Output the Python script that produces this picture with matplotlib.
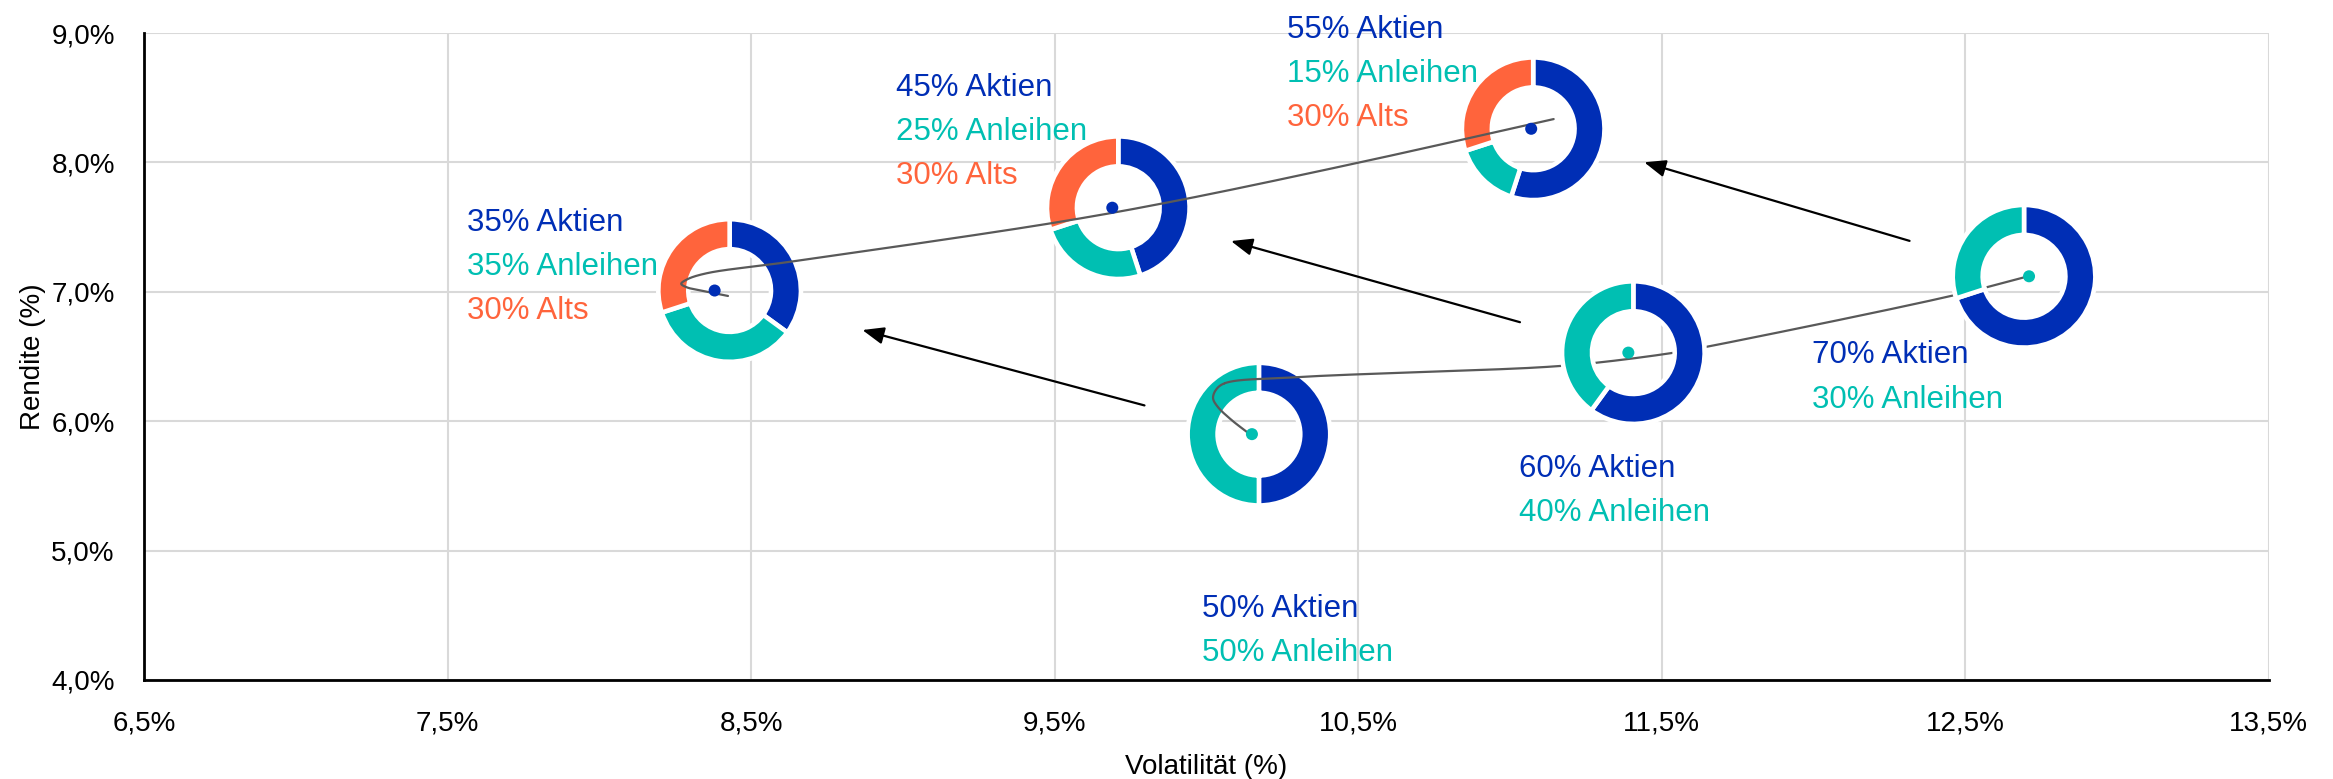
import numpy as np
import matplotlib
matplotlib.use('Agg')
from matplotlib import pyplot as plt
from matplotlib import font_manager


# =============================================================================
# Data: portfolios (volatility / return in %) and their asset mix
# =============================================================================
volatility = [8.38, 9.69, 11.07, 10.15, 11.39, 12.71]
rendite = [7.01, 7.65, 8.26, 5.90, 6.53, 7.12]
aktien = [35, 45, 55, 50, 60, 70]
anleihen = [35, 25, 15, 50, 40, 30]
alts = [30, 30, 30, 0, 0, 0]

# Frontier curves (knots along the drawn line)
curve_alts_x = [8.424, 8.353, 8.288, 8.270, 8.290, 8.353, 8.631, 9.494, 9.893, 10.495, 11.144]
curve_alts_y = [6.968, 7.001, 7.035, 7.062, 7.097, 7.143, 7.233, 7.532, 7.700, 7.995, 8.335]
curve_trad_x = [10.139, 10.083, 10.037, 10.022, 10.031, 10.060, 10.287, 11.103, 11.285, 11.539, 11.650, 12.466, 12.694]
curve_trad_y = [5.907, 6.009, 6.112, 6.177, 6.241, 6.293, 6.339, 6.417, 6.452, 6.529, 6.576, 6.975, 7.112]

# Arrows: from a stock/bond portfolio to its alts counterpart
arrow_pairs = [(3, 0), (4, 1), (5, 2)]

x_ticks = [6.5, 7.5, 8.5, 9.5, 10.5, 11.5, 12.5, 13.5]
y_ticks = [4.0, 5.0, 6.0, 7.0, 8.0, 9.0]

# =============================================================================
# Layout / style
# =============================================================================
BLUE = '#002EB5'
TEAL = '#00BFB2'
ORANGE = '#FF643C'
GREY = '#595959'
GRID = '#D9D9D9'

# label anchor (left, baseline of first line) in data units
label_xy = [(7.564, 7.470), (8.979, 8.513), (10.264, 8.964),
            (9.986, 4.485), (11.029, 5.571), (11.994, 6.447)]
ring_shift = [15, 6, 2, 7, 5, -5]       # px, horizontal nudge of the donuts
ring_z = [3, 3, 3, 3, 4.2, 4.2]
arrow_start = [0.20, 0.21, 0.24]
arrow_end = [0.725, 0.77, 0.773]
R_PX = 71.3

names = {f.name for f in font_manager.fontManager.ttflist}
if 'Liberation Sans Narrow' in names:
    axis_font, tick_size = 'Liberation Sans Narrow', 21.5
else:
    axis_font, tick_size = 'Liberation Sans', 20
plt.rcParams['font.family'] = ['Liberation Sans', 'DejaVu Sans']


def fmt(v):
    return ('%.1f%%' % v).replace('.', ',')


def smooth(xs, ys, sx, sy, n=40):
    # centripetal Catmull-Rom through the knots, done in pixel-like units
    p = np.column_stack([np.asarray(xs) * sx, np.asarray(ys) * sy])
    p = np.vstack([2 * p[0] - p[1], p, 2 * p[-1] - p[-2]])
    out = []
    for i in range(1, len(p) - 2):
        p0, p1, p2, p3 = p[i - 1:i + 3]
        t0 = 0.0
        t1 = t0 + np.linalg.norm(p1 - p0) ** 0.5
        t2 = t1 + np.linalg.norm(p2 - p1) ** 0.5
        t3 = t2 + np.linalg.norm(p3 - p2) ** 0.5
        t = np.linspace(t1, t2, n)[:, None]
        a1 = (t1 - t) / (t1 - t0) * p0 + (t - t0) / (t1 - t0) * p1
        a2 = (t2 - t) / (t2 - t1) * p1 + (t - t1) / (t2 - t1) * p2
        a3 = (t3 - t) / (t3 - t2) * p2 + (t - t2) / (t3 - t2) * p3
        b1 = (t2 - t) / (t2 - t0) * a1 + (t - t0) / (t2 - t0) * a2
        b2 = (t3 - t) / (t3 - t1) * a2 + (t - t1) / (t3 - t1) * a3
        out.append((t2 - t) / (t2 - t1) * b1 + (t - t1) / (t2 - t1) * b2)
    c = np.vstack(out)
    return c[:, 0] / sx, c[:, 1] / sy


# =============================================================================
# Plot
# =============================================================================
fig = plt.figure(figsize=(23.33, 7.79), dpi=100)
ax = fig.add_axes([0.0617, 0.1271, 0.9108, 0.8305])
ax.set_xlim(6.5, 13.5)
ax.set_ylim(4.0, 9.0)

ax.set_xticks(x_ticks)
ax.set_yticks(y_ticks)
ax.set_xticklabels([fmt(v) for v in x_ticks], family=axis_font, fontsize=tick_size)
ax.set_yticklabels([fmt(v) for v in y_ticks], family=axis_font, fontsize=tick_size)
ax.tick_params(length=0)
ax.tick_params(axis='x', pad=22)
ax.tick_params(axis='y', pad=21)
ax.grid(True, color=GRID, lw=1.5, zorder=0)
ax.set_axisbelow(True)
for side in ['top', 'right']:
    ax.spines[side].set_visible(False)
for side in ['left', 'bottom']:
    ax.spines[side].set_linewidth(2)
    ax.spines[side].set_color('black')

ax.set_xlabel('Volatilität (%)', family=axis_font, fontsize=tick_size)
ax.set_ylabel('Rendite (%)', family=axis_font, fontsize=tick_size)
ax.xaxis.set_label_coords(0.5, -0.114)
ax.yaxis.set_label_coords(-0.046, 0.5)

# px per data unit, used for the donut boxes and the curve smoothing
sx = ax.bbox.width / (13.5 - 6.5)
sy = ax.bbox.height / (9.0 - 4.0)

# Frontier lines
cx, cy = smooth(curve_alts_x, curve_alts_y, sx, sy)
ax.plot(cx, cy, color=GREY, lw=1.6, zorder=4.5, solid_capstyle='round')
cx, cy = smooth(curve_trad_x, curve_trad_y, sx, sy)
ax.plot(cx, cy, color=GREY, lw=1.6, zorder=3.5, solid_capstyle='round')

# Donuts
for i in range(len(volatility)):
    fx, fy = ax.transLimits.transform((volatility[i], rendite[i]))
    fx += ring_shift[i] / ax.bbox.width
    w = 2 * R_PX / ax.bbox.width
    h = 2 * R_PX / ax.bbox.height
    ax_in = ax.inset_axes([fx - w / 2, fy - h / 2, w, h], zorder=ring_z[i])
    sizes = [aktien[i], anleihen[i], alts[i]]
    cols = [BLUE, TEAL, ORANGE]
    keep = [k for k in range(3) if sizes[k] > 0]
    ax_in.pie([sizes[k] for k in keep], colors=[cols[k] for k in keep],
              startangle=90, counterclock=False, radius=1,
              wedgeprops=dict(width=0.42, edgecolor='white', linewidth=3.3))
    ax_in.set_xlim(-1, 1)
    ax_in.set_ylim(-1, 1)
    ax_in.axis('off')

# Dots
dot_cols = [BLUE if a > 0 else TEAL for a in alts]
ax.scatter(volatility, rendite, s=75, c=dot_cols, zorder=6, linewidths=0)

# Arrows
for (a, b), f0, f1 in zip(arrow_pairs, arrow_start, arrow_end):
    x0, y0 = volatility[a], rendite[a]
    dx, dy = volatility[b] - x0, rendite[b] - y0
    ax.annotate('', xy=(x0 + f1 * dx, y0 + f1 * dy), xytext=(x0 + f0 * dx, y0 + f0 * dy),
                arrowprops=dict(arrowstyle='-|>,head_length=0.5,head_width=0.2',
                                mutation_scale=26, color='black', lw=1.6,
                                shrinkA=0, shrinkB=0), zorder=5)

# Portfolio labels
for i in range(len(volatility)):
    lines = [('%d%% Aktien' % aktien[i], BLUE), ('%d%% Anleihen' % anleihen[i], TEAL)]
    if alts[i] > 0:
        lines.append(('%d%% Alts' % alts[i], ORANGE))
    for k, (txt, col) in enumerate(lines):
        ax.annotate(txt, xy=label_xy[i], xytext=(0, -31.8 * k), textcoords='offset points',
                    color=col, fontsize=22.5, ha='left', va='baseline',
                    annotation_clip=False, zorder=7)

plt.savefig('out.png', dpi=100)
